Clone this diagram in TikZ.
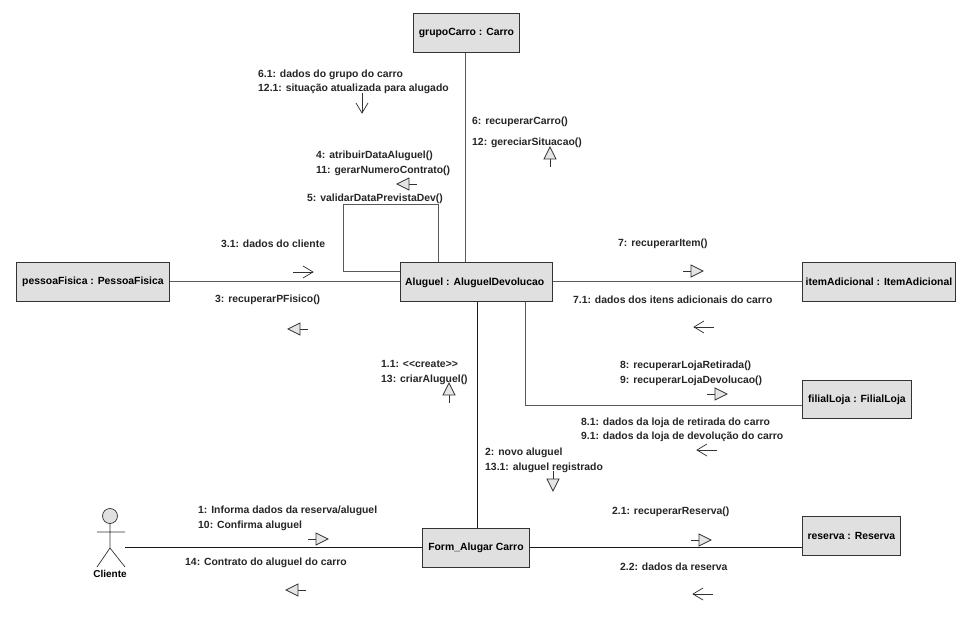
\documentclass[tikz,border=0pt]{standalone}
\usepackage{fontspec}
\setmainfont{Liberation Sans}
\tikzset{
  x=1pt,y=-1pt,
  objbox/.style={draw=black!80,line width=0.9pt,fill=black!12,inner sep=0,anchor=north west,font=\fontsize{10.4}{11}\selectfont\bfseries},
  msg/.style={anchor=west,inner sep=0,align=left,yshift=-1.5pt,font=\fontsize{10.4}{14.5}\selectfont\bfseries,text=black!85},
  link/.style={draw=black!65,line width=1pt},
  darklink/.style={draw=black!90,line width=0.9pt},
  glyph/.style={draw=black!80,line width=0.7pt},
  trihead/.style={glyph,fill=black!10},
  pics/tri/.style={code={
    \draw[glyph] (-8,0) -- (0,0);
    \draw[trihead] (0,-6) -- (12,0) -- (0,6) -- cycle;}},
  pics/opn/.style={code={
    \draw[glyph] (-10,0) -- (10,0);
    \draw[glyph] (0,-6) -- (10,0) -- (0,6);}}
}
\begin{document}
\begin{tikzpicture}
\useasboundingbox (0,0) rectangle (967,631);
\fill[white] (0,0) rectangle (967,631);
% objects
\node[objbox,minimum width=106pt,minimum height=39pt] (grupo) at (413,13) {grupoCarro : Carro};
\node[objbox,minimum width=152pt,minimum height=39pt,text depth=0pt] (alug) at (400,262) {};
\node[anchor=west,inner sep=0,yshift=-1pt,font=\fontsize{10.4}{11}\selectfont\bfseries] (alugt) at (405,282) {Aluguel : AluguelDevolucao};
\node[objbox,minimum width=153pt,minimum height=39pt] (pessoa) at (16,262) {pessoaFisica : PessoaFisica};
\node[objbox,minimum width=153pt,minimum height=39pt] (item) at (802,262) {itemAdicional : ItemAdicional};
\node[objbox,minimum width=109pt,minimum height=38pt] (filial) at (802,380) {filialLoja : FilialLoja};
\node[objbox,minimum width=98pt,minimum height=39pt] (reserva) at (802,516) {reserva : Reserva};
\node[objbox,minimum width=107pt,minimum height=39pt] (form) at (422,528) {Form\_Alugar Carro};
% actor
\draw[glyph,fill=black!12] (110,516) circle (7.5);
\draw[glyph] (110,523.5) -- (110,548) (97,532) -- (125,532) (97,567) -- (110,548) -- (125,567);
\node[inner sep=0,font=\fontsize{10}{10}\selectfont\bfseries] (cli) at (110,574) {Cliente};
\coordinate (actorhand) at (125,547);
% connectors
\draw[link] (pessoa.east |- 0,282) -- (alug.west |- 0,282);
\draw[link] (alug.east |- 0,282) -- (item.west |- 0,282);
\draw[link] (grupo.south -| 465,0) -- (alug.north -| 465,0);
\draw[darklink] (alug.south -| 477,0) -- (form.north -| 477,0);
\draw[link] (alug.south -| 525,0) -- (525,405) -- (filial.west |- 0,405);
\draw[link] (alug.north -| 438,0) -- (438,205) -- (343,205) -- (343,272) -- (alug.west |- 0,272);
\draw[darklink] (actorhand) -- (form.west |- actorhand);
\draw[darklink] (form.east |- 0,547) -- (reserva.west |- 0,547);
% labels
\node[msg] (m61) at (258,80.5) {6.1: dados do grupo do carro\\12.1: situação atualizada para alugado};
\node[msg] (m6) at (472,120) {6: recuperarCarro()};
\node[msg] (m12) at (472,141) {12: gereciarSituacao()};
\node[msg] (m4) at (316,162) {4: atribuirDataAluguel()\\11: gerarNumeroContrato()};
\node[msg] (m5) at (307,197) {5: validarDataPrevistaDev()};
\node[msg] (m31) at (221,242) {3.1: dados do cliente};
\node[msg] (m3) at (215,298) {3: recuperarPFisico()};
\node[msg] (m7) at (618,242) {7: recuperarItem()};
\node[msg] (m71) at (573,298) {7.1: dados dos itens adicionais do carro};
\node[msg] (m8) at (620,372) {8: recuperarLojaRetirada()\\9: recuperarLojaDevolucao()};
\node[msg] (m81) at (581,428.5) {8.1: dados da loja de retirada do carro\\9.1: dados da loja de devolução do carro};
\node[msg] (m11) at (381,371) {1.1: <{}<create>{}>\\13: criarAluguel()};
\node[msg] (m2) at (485,459) {2: novo aluguel\\13.1: aluguel registrado};
\node[msg] (m21) at (612,510) {2.1: recuperarReserva()};
\node[msg] (m22) at (620,565) {2.2: dados da reserva};
\node[msg] (m1) at (198,517) {1: Informa dados da reserva/aluguel\\10: Confirma aluguel};
\node[msg] (m14) at (185,561) {14: Contrato do aluguel do carro};
% message arrows
\pic[rotate=-90] at (362,103) {opn};
\pic[rotate=90] at (550,159) {tri};
\pic[rotate=180] at (409,184) {tri};
\pic at (303,272) {opn};
\pic[rotate=180] at (300,329) {tri};
\pic at (691,271) {tri};
\pic[rotate=180] at (704,327) {opn};
\pic at (715,394) {tri};
\pic[rotate=180] at (707,450) {opn};
\pic[rotate=90] at (449,395) {tri};
\pic[rotate=-90] at (553,479) {tri};
\pic at (699,540) {tri};
\pic[rotate=180] at (703,594) {opn};
\pic at (316,539) {tri};
\pic[rotate=180] at (298,590) {tri};
\end{tikzpicture}
\end{document}
